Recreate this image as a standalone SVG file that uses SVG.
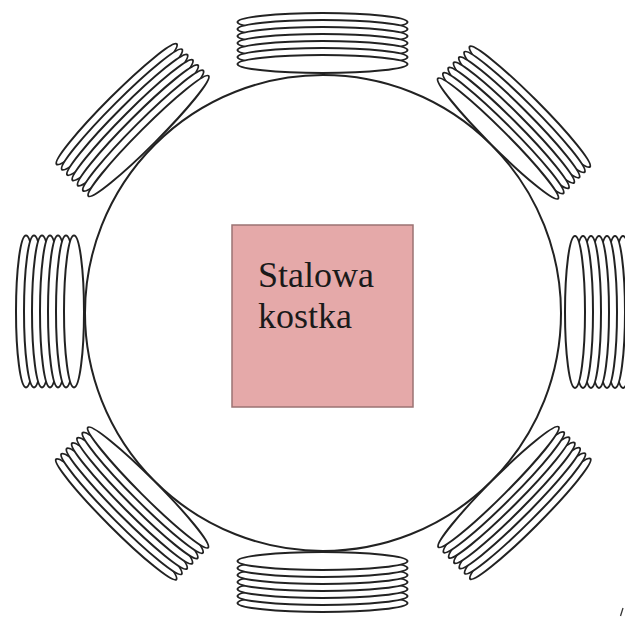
<svg xmlns="http://www.w3.org/2000/svg" width="625" height="619" viewBox="0 0 625 619">
<style>
.ring{fill:none;stroke:#222;stroke-width:2}
.w{fill:#fff;stroke:#222;stroke-width:2}
.box{fill:#e5a9a9;stroke:#9b7373;stroke-width:1.5}
.lbl{font-family:"Liberation Serif","Times New Roman",serif;font-size:36px;fill:#1a1a1a}
</style>
<rect width="625" height="619" fill="#fff"/>
<circle class="ring" cx="323" cy="313" r="238"/>
<defs>
<g id="coilH">
<ellipse class="w" cx="0" cy="-42" rx="85" ry="9"/>
<ellipse class="w" cx="0" cy="-35" rx="85" ry="9"/>
<ellipse class="w" cx="0" cy="-28" rx="85" ry="9"/>
<ellipse class="w" cx="0" cy="-21" rx="85" ry="9"/>
<ellipse class="w" cx="0" cy="-14" rx="85" ry="9"/>
<ellipse class="w" cx="0" cy="-7" rx="85" ry="9"/>
<ellipse class="w" cx="0" cy="0" rx="85" ry="9"/>
</g>
<g id="coilV">
<ellipse class="w" cx="0" cy="-48" rx="76" ry="10"/>
<ellipse class="w" cx="0" cy="-40" rx="76" ry="10"/>
<ellipse class="w" cx="0" cy="-32" rx="76" ry="10"/>
<ellipse class="w" cx="0" cy="-24" rx="76" ry="10"/>
<ellipse class="w" cx="0" cy="-16" rx="76" ry="10"/>
<ellipse class="w" cx="0" cy="-8" rx="76" ry="10"/>
<ellipse class="w" cx="0" cy="0" rx="76" ry="10"/>
</g>
<g id="coilD">
<ellipse class="w" cx="0" cy="-45" rx="85" ry="9"/>
<ellipse class="w" cx="0" cy="-37.5" rx="85" ry="9"/>
<ellipse class="w" cx="0" cy="-30" rx="85" ry="9"/>
<ellipse class="w" cx="0" cy="-22.5" rx="85" ry="9"/>
<ellipse class="w" cx="0" cy="-15" rx="85" ry="9"/>
<ellipse class="w" cx="0" cy="-7.5" rx="85" ry="9"/>
<ellipse class="w" cx="0" cy="0" rx="85" ry="9"/>
</g>
</defs>
<g id="coil-top" transform="translate(322.5,64)"><use href="#coilH"/></g>
<g id="coil-bottom" transform="translate(322.5,561) rotate(180)"><use href="#coilH"/></g>
<g id="coil-left" transform="translate(74,311.5) rotate(-90)"><use href="#coilV"/></g>
<g id="coil-right" transform="translate(575,312) rotate(90)"><use href="#coilV"/></g>
<g id="coil-top-right" transform="translate(498,138.5) rotate(45)"><use href="#coilD"/></g>
<g id="coil-top-left" transform="translate(148.5,136) rotate(-45)"><use href="#coilD"/></g>
<g id="coil-bottom-left" transform="translate(148,487.5) rotate(-135)"><use href="#coilD"/></g>
<g id="coil-bottom-right" transform="translate(498.5,487) rotate(135)"><use href="#coilD"/></g>
<g id="steel-cube">
<rect class="box" x="232" y="225" width="181" height="182"/>
<text class="lbl" x="258" y="287">Stalowa</text>
<text class="lbl" x="258" y="328">kostka</text>
</g>
<path d="M623,608 L620.5,616" stroke="#333" stroke-width="1.3" fill="none"/>
</svg>
